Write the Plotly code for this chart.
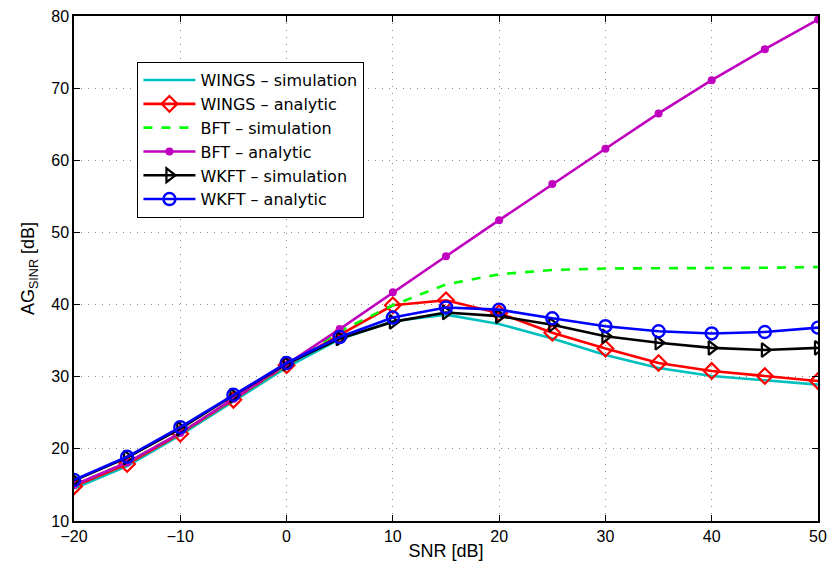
import plotly.graph_objects as go

snr = [-20, -15, -10, -5, 0, 5, 10, 15, 20, 25, 30, 35, 40, 45, 50]

wings_sim = [14.5, 17.6, 21.9, 26.6, 31.3, 35.2, 37.7, 38.6, 37.3, 35.3, 33.0, 31.2, 30.1, 29.5, 28.9]
wings_ana = [14.8, 17.9, 22.1, 26.8, 31.6, 35.8, 39.9, 40.6, 38.8, 36.1, 33.9, 31.9, 30.8, 30.1, 29.4]
bft_sim = [15.0, 18.1, 22.2, 26.9, 31.7, 36.3, 39.9, 42.8, 44.2, 44.8, 45.0, 45.0, 45.0, 45.1, 45.2]
bft_ana = [15.0, 18.1, 22.2, 26.9, 31.7, 36.6, 41.7, 46.7, 51.7, 56.7, 61.6, 66.5, 71.1, 75.4, 79.5]
wkft_sim = [15.6, 18.8, 22.8, 27.4, 31.8, 35.3, 37.6, 38.9, 38.4, 37.2, 35.6, 34.7, 34.0, 33.7, 34.0]
wkft_ana = [15.7, 18.9, 23.0, 27.5, 31.9, 35.5, 38.2, 39.6, 39.3, 38.1, 37.0, 36.3, 36.0, 36.2, 36.8]

x_ticks = [-20, -10, 0, 10, 20, 30, 40, 50]
x_ticktext = ["\u221220", "\u221210", "0", "10", "20", "30", "40", "50"]
y_ticks = [10, 20, 30, 40, 50, 60, 70, 80]

fig = go.Figure()
lw = 2.6
fig.add_trace(go.Scatter(x=snr, y=wings_sim, mode="lines", name="WINGS \u2013 simulation",
                         line=dict(color="#00BFBF", width=lw)))
fig.add_trace(go.Scatter(x=snr, y=wings_ana, mode="lines+markers", name="WINGS \u2013 analytic",
                         line=dict(color="#FF0000", width=lw),
                         marker=dict(symbol="diamond-open", size=12, color="#FF0000",
                                     line=dict(width=2.2, color="#FF0000"))))
fig.add_trace(go.Scatter(x=snr, y=bft_sim, mode="lines", name="BFT \u2013 simulation",
                         line=dict(color="#00FF00", width=lw, dash="dash")))
fig.add_trace(go.Scatter(x=snr, y=bft_ana, mode="lines+markers", name="BFT \u2013 analytic",
                         line=dict(color="#BF00BF", width=lw),
                         marker=dict(symbol="circle", size=8, color="#BF00BF")))
fig.add_trace(go.Scatter(x=snr, y=wkft_sim, mode="lines+markers", name="WKFT \u2013 simulation",
                         line=dict(color="#000000", width=lw),
                         marker=dict(symbol="triangle-right-open", size=12, color="#000000",
                                     line=dict(width=2.2, color="#000000"))))
fig.add_trace(go.Scatter(x=snr, y=wkft_ana, mode="lines+markers", name="WKFT \u2013 analytic",
                         line=dict(color="#0000FF", width=lw),
                         marker=dict(symbol="circle-open", size=12, color="#0000FF",
                                     line=dict(width=2.4, color="#0000FF"))))

axis_common = dict(
    showline=True, linecolor="black", linewidth=1.5, mirror="ticks",
    ticks="inside", ticklen=6, tickcolor="black",
    showgrid=True, gridcolor="#8a8a8a", griddash="1px,6px", gridwidth=1.2,
    zeroline=False, tickfont=dict(size=16, color="black"), automargin=False,
)

fig.update_layout(
    width=830, height=565,
    margin=dict(l=74, r=12, t=16, b=44),
    paper_bgcolor="white", plot_bgcolor="white",
    font=dict(family="Liberation Sans, Arial, sans-serif", size=16, color="black"),
    xaxis=dict(range=[-20, 50], tickvals=x_ticks, ticktext=x_ticktext,
               title=dict(text="SNR [dB]", font=dict(size=18), standoff=0), **axis_common),
    yaxis=dict(range=[10, 80], tickvals=y_ticks,
               title=dict(text="AG<sub>SINR</sub> [dB]", font=dict(size=18), standoff=12),
               **axis_common),
    legend=dict(x=0.085, y=0.909, xanchor="left", yanchor="top",
                bgcolor="white", bordercolor="black", borderwidth=1.2,
                font=dict(family="DejaVu Sans, sans-serif", size=16, color="black"),
                tracegroupgap=0, itemwidth=52),
    showlegend=True,
)

fig.write_html("out.html")
